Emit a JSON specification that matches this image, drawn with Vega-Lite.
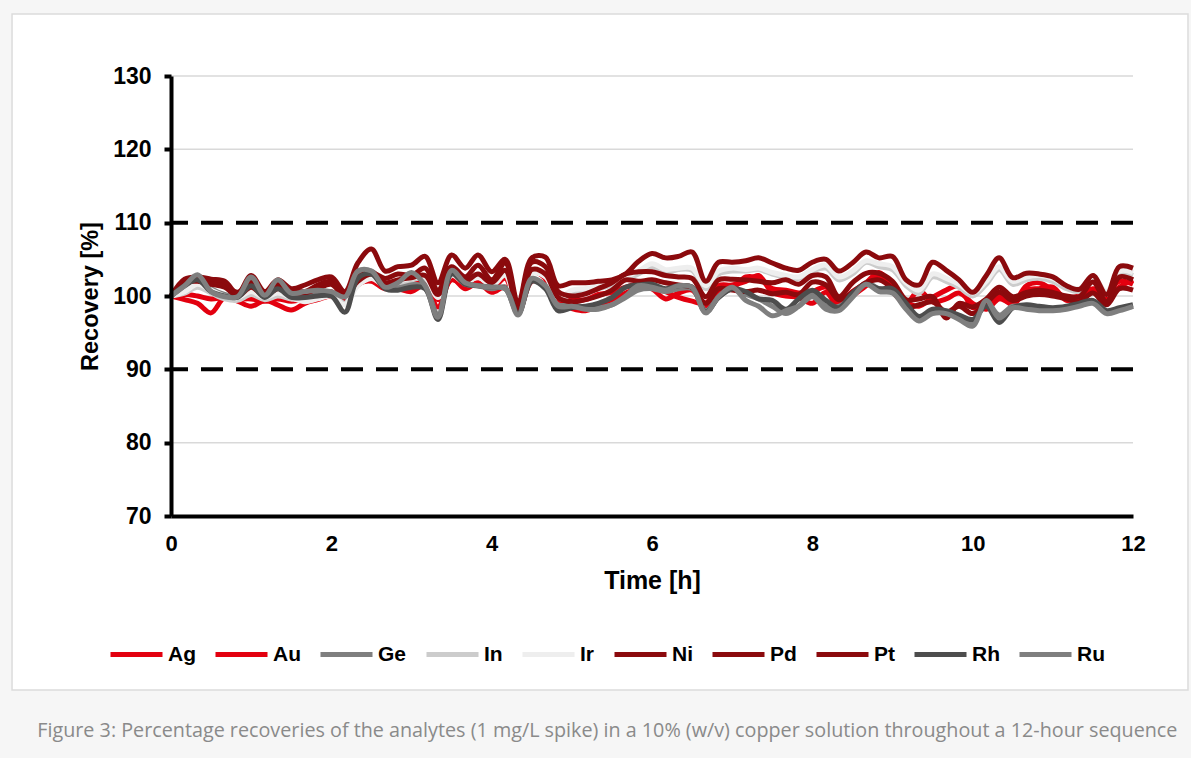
{
"$schema": "https://vega.github.io/schema/vega-lite/v6.json",
"width": 962, "height": 440,
"autosize": {"type": "none"},
"padding": {"left": 171, "top": 76, "right": 58, "bottom": 242},
"background": "#f6f6f6",
"title": {"text": "Figure 3: Percentage recoveries of the analytes (1 mg/L spike) in a 10% (w/v) copper solution throughout a 12-hour sequence", "orient": "bottom", "anchor": "start", "dx": 26, "offset": 30, "font": "Open Sans", "fontSize": 19.75, "fontWeight": "normal", "color": "#8a8a8a"},
"config": {
 "view": {"stroke": null},
 "font": "Liberation Sans"
},
"layer": [
 {"data": {"values": [{}]}, "mark": {"type": "rect", "fill": "white", "stroke": "#dcdcdc", "strokeWidth": 1.5, "clip": false},
  "encoding": {"x": {"datum": -1.983, "type": "quantitative", "scale": {"domain": [0, 12], "nice": false, "zero": false}}, "x2": {"datum": 12.686}, "y": {"datum": 138.45, "type": "quantitative", "scale": {"domain": [70, 130], "nice": false, "zero": false}}, "y2": {"datum": 46.27}}},
 {"data": {"values": [{"g": 80}, {"g": 100}, {"g": 120}, {"g": 130}]}, "mark": {"type": "rule", "stroke": "#d9d9d9", "strokeWidth": 1.5},
  "encoding": {"y": {"field": "g", "type": "quantitative", "scale": {"domain": [70, 130], "nice": false, "zero": false}}}},
 {"data": {"values": [{"g": 90}, {"g": 110}]}, "mark": {"type": "rule", "stroke": "black", "strokeWidth": 4, "strokeDash": [22, 13]},
  "encoding": {"y": {"field": "g", "type": "quantitative", "scale": {"domain": [70, 130], "nice": false, "zero": false}}}},
 {"data": {"values": [
{"t":0,"e":"Ag","v":100},{"t":0.17,"e":"Ag","v":99.5},{"t":0.33,"e":"Ag","v":99.0},{"t":0.5,"e":"Ag","v":97.7},{"t":0.67,"e":"Ag","v":99.8},{"t":0.83,"e":"Ag","v":99.3},{"t":1,"e":"Ag","v":98.6},{"t":1.17,"e":"Ag","v":99.4},{"t":1.33,"e":"Ag","v":98.8},{"t":1.5,"e":"Ag","v":98.1},{"t":1.67,"e":"Ag","v":99.0},{"t":1.83,"e":"Ag","v":99.5},{"t":2,"e":"Ag","v":100.0},
{"t":2.17,"e":"Ag","v":99.5},{"t":2.33,"e":"Ag","v":101.5},{"t":2.5,"e":"Ag","v":102.4},{"t":2.67,"e":"Ag","v":101.2},{"t":2.83,"e":"Ag","v":101.0},{"t":3,"e":"Ag","v":100.6},{"t":3.17,"e":"Ag","v":101.5},{"t":3.33,"e":"Ag","v":98.5},{"t":3.5,"e":"Ag","v":102.4},{"t":3.67,"e":"Ag","v":101.0},{"t":3.83,"e":"Ag","v":101.8},{"t":4,"e":"Ag","v":100.5},
{"t":4.17,"e":"Ag","v":101.2},{"t":4.33,"e":"Ag","v":97.8},{"t":4.5,"e":"Ag","v":102.0},{"t":4.67,"e":"Ag","v":101.6},{"t":4.83,"e":"Ag","v":99.0},{"t":5,"e":"Ag","v":98.3},{"t":5.17,"e":"Ag","v":98.0},{"t":5.33,"e":"Ag","v":98.6},{"t":5.5,"e":"Ag","v":99.2},{"t":5.67,"e":"Ag","v":100.4},{"t":5.83,"e":"Ag","v":101.0},{"t":6,"e":"Ag","v":101.2},
{"t":6.17,"e":"Ag","v":100.6},{"t":6.33,"e":"Ag","v":99.8},{"t":6.5,"e":"Ag","v":99.3},{"t":6.67,"e":"Ag","v":99.0},{"t":6.83,"e":"Ag","v":101.4},{"t":7,"e":"Ag","v":101.5},{"t":7.17,"e":"Ag","v":102.0},{"t":7.33,"e":"Ag","v":102.8},{"t":7.5,"e":"Ag","v":100.5},{"t":7.67,"e":"Ag","v":100.0},{"t":7.83,"e":"Ag","v":99.8},{"t":8,"e":"Ag","v":99.0},
{"t":8.17,"e":"Ag","v":100.5},{"t":8.33,"e":"Ag","v":98.4},{"t":8.5,"e":"Ag","v":100.0},{"t":8.67,"e":"Ag","v":101.4},{"t":8.83,"e":"Ag","v":102.8},{"t":9,"e":"Ag","v":100.6},{"t":9.17,"e":"Ag","v":99.0},{"t":9.33,"e":"Ag","v":100.8},{"t":9.5,"e":"Ag","v":99.2},{"t":9.67,"e":"Ag","v":99.6},{"t":9.83,"e":"Ag","v":100.4},{"t":10,"e":"Ag","v":99.0},
{"t":10.17,"e":"Ag","v":98.2},{"t":10.33,"e":"Ag","v":99.6},{"t":10.5,"e":"Ag","v":99.0},{"t":10.67,"e":"Ag","v":101.4},{"t":10.83,"e":"Ag","v":101.8},{"t":11,"e":"Ag","v":100.8},{"t":11.17,"e":"Ag","v":99.8},{"t":11.33,"e":"Ag","v":100.0},{"t":11.5,"e":"Ag","v":101.0},{"t":11.67,"e":"Ag","v":100.5},{"t":11.83,"e":"Ag","v":102.0},{"t":12,"e":"Ag","v":101.6},
{"t":0,"e":"Au","v":100},{"t":0.17,"e":"Au","v":100.2},{"t":0.33,"e":"Au","v":100.0},{"t":0.5,"e":"Au","v":99.6},{"t":0.67,"e":"Au","v":99.8},{"t":0.83,"e":"Au","v":99.6},{"t":1,"e":"Au","v":99.6},{"t":1.17,"e":"Au","v":99.3},{"t":1.33,"e":"Au","v":99.6},{"t":1.5,"e":"Au","v":99.3},{"t":1.67,"e":"Au","v":99.6},{"t":1.83,"e":"Au","v":100.2},{"t":2,"e":"Au","v":100.6},
{"t":2.17,"e":"Au","v":99.2},{"t":2.33,"e":"Au","v":101.6},{"t":2.5,"e":"Au","v":102.0},{"t":2.67,"e":"Au","v":101.0},{"t":2.83,"e":"Au","v":101.5},{"t":3,"e":"Au","v":101.8},{"t":3.17,"e":"Au","v":101.6},{"t":3.33,"e":"Au","v":99.5},{"t":3.5,"e":"Au","v":102.2},{"t":3.67,"e":"Au","v":101.4},{"t":3.83,"e":"Au","v":101.6},{"t":4,"e":"Au","v":101.0},
{"t":4.17,"e":"Au","v":102.4},{"t":4.33,"e":"Au","v":98.0},{"t":4.5,"e":"Au","v":103.2},{"t":4.67,"e":"Au","v":102.4},{"t":4.83,"e":"Au","v":98.8},{"t":5,"e":"Au","v":99.5},{"t":5.17,"e":"Au","v":99.5},{"t":5.33,"e":"Au","v":100.2},{"t":5.5,"e":"Au","v":100.5},{"t":5.67,"e":"Au","v":101.2},{"t":5.83,"e":"Au","v":101.6},{"t":6,"e":"Au","v":101.0},
{"t":6.17,"e":"Au","v":99.6},{"t":6.33,"e":"Au","v":100.4},{"t":6.5,"e":"Au","v":100.8},{"t":6.67,"e":"Au","v":98.6},{"t":6.83,"e":"Au","v":100.6},{"t":7,"e":"Au","v":101.0},{"t":7.17,"e":"Au","v":102.6},{"t":7.33,"e":"Au","v":102.4},{"t":7.5,"e":"Au","v":101.0},{"t":7.67,"e":"Au","v":100.8},{"t":7.83,"e":"Au","v":100.4},{"t":8,"e":"Au","v":100.6},
{"t":8.17,"e":"Au","v":101.2},{"t":8.33,"e":"Au","v":99.0},{"t":8.5,"e":"Au","v":100.6},{"t":8.67,"e":"Au","v":101.8},{"t":8.83,"e":"Au","v":103.2},{"t":9,"e":"Au","v":101.4},{"t":9.17,"e":"Au","v":99.2},{"t":9.33,"e":"Au","v":98.6},{"t":9.5,"e":"Au","v":99.8},{"t":9.67,"e":"Au","v":100.8},{"t":9.83,"e":"Au","v":101.4},{"t":10,"e":"Au","v":98.4},
{"t":10.17,"e":"Au","v":99.2},{"t":10.33,"e":"Au","v":100.0},{"t":10.5,"e":"Au","v":98.8},{"t":10.67,"e":"Au","v":100.8},{"t":10.83,"e":"Au","v":101.0},{"t":11,"e":"Au","v":101.2},{"t":11.17,"e":"Au","v":99.4},{"t":11.33,"e":"Au","v":99.8},{"t":11.5,"e":"Au","v":100.6},{"t":11.67,"e":"Au","v":99.6},{"t":11.83,"e":"Au","v":101.2},{"t":12,"e":"Au","v":102.2},
{"t":0,"e":"Ge","v":100},{"t":0.17,"e":"Ge","v":101.6},{"t":0.33,"e":"Ge","v":102.4},{"t":0.5,"e":"Ge","v":101.0},{"t":0.67,"e":"Ge","v":100.2},{"t":0.83,"e":"Ge","v":100.0},{"t":1,"e":"Ge","v":102.0},{"t":1.17,"e":"Ge","v":100.0},{"t":1.33,"e":"Ge","v":101.6},{"t":1.5,"e":"Ge","v":100.0},{"t":1.67,"e":"Ge","v":100.0},{"t":1.83,"e":"Ge","v":100.2},{"t":2,"e":"Ge","v":100.4},
{"t":2.17,"e":"Ge","v":99.0},{"t":2.33,"e":"Ge","v":102.8},{"t":2.5,"e":"Ge","v":103.4},{"t":2.67,"e":"Ge","v":101.6},{"t":2.83,"e":"Ge","v":101.2},{"t":3,"e":"Ge","v":101.6},{"t":3.17,"e":"Ge","v":101.2},{"t":3.33,"e":"Ge","v":97.4},{"t":3.5,"e":"Ge","v":103.2},{"t":3.67,"e":"Ge","v":101.6},{"t":3.83,"e":"Ge","v":101.4},{"t":4,"e":"Ge","v":101.0},
{"t":4.17,"e":"Ge","v":101.2},{"t":4.33,"e":"Ge","v":97.6},{"t":4.5,"e":"Ge","v":102.2},{"t":4.67,"e":"Ge","v":101.4},{"t":4.83,"e":"Ge","v":98.8},{"t":5,"e":"Ge","v":98.8},{"t":5.17,"e":"Ge","v":98.5},{"t":5.33,"e":"Ge","v":98.4},{"t":5.5,"e":"Ge","v":98.8},{"t":5.67,"e":"Ge","v":99.8},{"t":5.83,"e":"Ge","v":100.8},{"t":6,"e":"Ge","v":101.0},
{"t":6.17,"e":"Ge","v":100.6},{"t":6.33,"e":"Ge","v":101.0},{"t":6.5,"e":"Ge","v":101.0},{"t":6.67,"e":"Ge","v":98.0},{"t":6.83,"e":"Ge","v":99.8},{"t":7,"e":"Ge","v":101.0},{"t":7.17,"e":"Ge","v":100.2},{"t":7.33,"e":"Ge","v":99.6},{"t":7.5,"e":"Ge","v":98.6},{"t":7.67,"e":"Ge","v":97.6},{"t":7.83,"e":"Ge","v":98.6},{"t":8,"e":"Ge","v":100.2},
{"t":8.17,"e":"Ge","v":98.6},{"t":8.33,"e":"Ge","v":98.6},{"t":8.5,"e":"Ge","v":100.0},{"t":8.67,"e":"Ge","v":101.8},{"t":8.83,"e":"Ge","v":101.0},{"t":9,"e":"Ge","v":100.6},{"t":9.17,"e":"Ge","v":98.6},{"t":9.33,"e":"Ge","v":96.8},{"t":9.5,"e":"Ge","v":97.8},{"t":9.67,"e":"Ge","v":97.6},{"t":9.83,"e":"Ge","v":97.2},{"t":10,"e":"Ge","v":96.4},
{"t":10.17,"e":"Ge","v":99.2},{"t":10.33,"e":"Ge","v":97.4},{"t":10.5,"e":"Ge","v":98.6},{"t":10.67,"e":"Ge","v":98.4},{"t":10.83,"e":"Ge","v":98.2},{"t":11,"e":"Ge","v":98.2},{"t":11.17,"e":"Ge","v":98.4},{"t":11.33,"e":"Ge","v":98.8},{"t":11.5,"e":"Ge","v":99.2},{"t":11.67,"e":"Ge","v":97.8},{"t":11.83,"e":"Ge","v":98.2},{"t":12,"e":"Ge","v":98.6},
{"t":0,"e":"In","v":100},{"t":0.17,"e":"In","v":100.4},{"t":0.33,"e":"In","v":101.2},{"t":0.5,"e":"In","v":100.4},{"t":0.67,"e":"In","v":99.6},{"t":0.83,"e":"In","v":99.4},{"t":1,"e":"In","v":100.2},{"t":1.17,"e":"In","v":99.5},{"t":1.33,"e":"In","v":100.0},{"t":1.5,"e":"In","v":99.6},{"t":1.67,"e":"In","v":99.4},{"t":1.83,"e":"In","v":99.8},{"t":2,"e":"In","v":100.2},
{"t":2.17,"e":"In","v":99.0},{"t":2.33,"e":"In","v":101.8},{"t":2.5,"e":"In","v":102.8},{"t":2.67,"e":"In","v":101.6},{"t":2.83,"e":"In","v":101.8},{"t":3,"e":"In","v":102.2},{"t":3.17,"e":"In","v":102.4},{"t":3.33,"e":"In","v":100.0},{"t":3.5,"e":"In","v":103.0},{"t":3.67,"e":"In","v":102.0},{"t":3.83,"e":"In","v":102.8},{"t":4,"e":"In","v":101.6},
{"t":4.17,"e":"In","v":103.2},{"t":4.33,"e":"In","v":98.4},{"t":4.5,"e":"In","v":103.4},{"t":4.67,"e":"In","v":103.0},{"t":4.83,"e":"In","v":100.2},{"t":5,"e":"In","v":100.4},{"t":5.17,"e":"In","v":100.6},{"t":5.33,"e":"In","v":101.0},{"t":5.5,"e":"In","v":101.5},{"t":5.67,"e":"In","v":102.2},{"t":5.83,"e":"In","v":103.0},{"t":6,"e":"In","v":104.0},
{"t":6.17,"e":"In","v":103.2},{"t":6.33,"e":"In","v":103.6},{"t":6.5,"e":"In","v":103.5},{"t":6.67,"e":"In","v":101.0},{"t":6.83,"e":"In","v":103.0},{"t":7,"e":"In","v":103.4},{"t":7.17,"e":"In","v":103.4},{"t":7.33,"e":"In","v":103.6},{"t":7.5,"e":"In","v":103.0},{"t":7.67,"e":"In","v":102.6},{"t":7.83,"e":"In","v":102.4},{"t":8,"e":"In","v":103.4},
{"t":8.17,"e":"In","v":103.8},{"t":8.33,"e":"In","v":102.2},{"t":8.5,"e":"In","v":103.0},{"t":8.67,"e":"In","v":104.6},{"t":8.83,"e":"In","v":104.0},{"t":9,"e":"In","v":103.6},{"t":9.17,"e":"In","v":101.4},{"t":9.33,"e":"In","v":100.4},{"t":9.5,"e":"In","v":102.6},{"t":9.67,"e":"In","v":102.0},{"t":9.83,"e":"In","v":101.2},{"t":10,"e":"In","v":100.0},
{"t":10.17,"e":"In","v":101.6},{"t":10.33,"e":"In","v":103.6},{"t":10.5,"e":"In","v":101.6},{"t":10.67,"e":"In","v":102.2},{"t":10.83,"e":"In","v":102.4},{"t":11,"e":"In","v":102.0},{"t":11.17,"e":"In","v":101.0},{"t":11.33,"e":"In","v":100.6},{"t":11.5,"e":"In","v":102.2},{"t":11.67,"e":"In","v":100.2},{"t":11.83,"e":"In","v":103.0},{"t":12,"e":"In","v":102.8},
{"t":0,"e":"Ir","v":100},{"t":0.17,"e":"Ir","v":100.6},{"t":0.33,"e":"Ir","v":101.6},{"t":0.5,"e":"Ir","v":100.8},{"t":0.67,"e":"Ir","v":100.0},{"t":0.83,"e":"Ir","v":99.8},{"t":1,"e":"Ir","v":100.6},{"t":1.17,"e":"Ir","v":99.8},{"t":1.33,"e":"Ir","v":100.4},{"t":1.5,"e":"Ir","v":99.8},{"t":1.67,"e":"Ir","v":99.2},{"t":1.83,"e":"Ir","v":99.6},{"t":2,"e":"Ir","v":100.0},
{"t":2.17,"e":"Ir","v":98.8},{"t":2.33,"e":"Ir","v":101.4},{"t":2.5,"e":"Ir","v":102.4},{"t":2.67,"e":"Ir","v":101.4},{"t":2.83,"e":"Ir","v":102.0},{"t":3,"e":"Ir","v":102.4},{"t":3.17,"e":"Ir","v":102.6},{"t":3.33,"e":"Ir","v":99.8},{"t":3.5,"e":"Ir","v":102.8},{"t":3.67,"e":"Ir","v":101.8},{"t":3.83,"e":"Ir","v":102.6},{"t":4,"e":"Ir","v":101.4},
{"t":4.17,"e":"Ir","v":102.8},{"t":4.33,"e":"Ir","v":98.2},{"t":4.5,"e":"Ir","v":103.0},{"t":4.67,"e":"Ir","v":102.6},{"t":4.83,"e":"Ir","v":99.8},{"t":5,"e":"Ir","v":100.8},{"t":5.17,"e":"Ir","v":101.0},{"t":5.33,"e":"Ir","v":101.4},{"t":5.5,"e":"Ir","v":101.8},{"t":5.67,"e":"Ir","v":102.6},{"t":5.83,"e":"Ir","v":103.4},{"t":6,"e":"Ir","v":104.4},
{"t":6.17,"e":"Ir","v":103.6},{"t":6.33,"e":"Ir","v":103.8},{"t":6.5,"e":"Ir","v":103.8},{"t":6.67,"e":"Ir","v":101.4},{"t":6.83,"e":"Ir","v":103.4},{"t":7,"e":"Ir","v":103.8},{"t":7.17,"e":"Ir","v":103.6},{"t":7.33,"e":"Ir","v":103.8},{"t":7.5,"e":"Ir","v":103.2},{"t":7.67,"e":"Ir","v":102.8},{"t":7.83,"e":"Ir","v":102.6},{"t":8,"e":"Ir","v":103.6},
{"t":8.17,"e":"Ir","v":104.2},{"t":8.33,"e":"Ir","v":102.6},{"t":8.5,"e":"Ir","v":103.4},{"t":8.67,"e":"Ir","v":104.8},{"t":8.83,"e":"Ir","v":104.4},{"t":9,"e":"Ir","v":104.0},{"t":9.17,"e":"Ir","v":101.8},{"t":9.33,"e":"Ir","v":100.8},{"t":9.5,"e":"Ir","v":103.0},{"t":9.67,"e":"Ir","v":102.4},{"t":9.83,"e":"Ir","v":101.6},{"t":10,"e":"Ir","v":100.4},
{"t":10.17,"e":"Ir","v":102.0},{"t":10.33,"e":"Ir","v":104.0},{"t":10.5,"e":"Ir","v":102.0},{"t":10.67,"e":"Ir","v":102.6},{"t":10.83,"e":"Ir","v":102.8},{"t":11,"e":"Ir","v":102.4},{"t":11.17,"e":"Ir","v":101.4},{"t":11.33,"e":"Ir","v":101.0},{"t":11.5,"e":"Ir","v":102.6},{"t":11.67,"e":"Ir","v":100.6},{"t":11.83,"e":"Ir","v":103.4},{"t":12,"e":"Ir","v":103.2},
{"t":0,"e":"Ni","v":100},{"t":0.17,"e":"Ni","v":101.8},{"t":0.33,"e":"Ni","v":102.0},{"t":0.5,"e":"Ni","v":101.6},{"t":0.67,"e":"Ni","v":101.2},{"t":0.83,"e":"Ni","v":100.0},{"t":1,"e":"Ni","v":101.2},{"t":1.17,"e":"Ni","v":100.0},{"t":1.33,"e":"Ni","v":101.0},{"t":1.5,"e":"Ni","v":100.5},{"t":1.67,"e":"Ni","v":100.4},{"t":1.83,"e":"Ni","v":101.0},{"t":2,"e":"Ni","v":101.6},
{"t":2.17,"e":"Ni","v":100.0},{"t":2.33,"e":"Ni","v":102.0},{"t":2.5,"e":"Ni","v":103.0},{"t":2.67,"e":"Ni","v":101.8},{"t":2.83,"e":"Ni","v":102.2},{"t":3,"e":"Ni","v":102.5},{"t":3.17,"e":"Ni","v":102.8},{"t":3.33,"e":"Ni","v":100.2},{"t":3.5,"e":"Ni","v":103.2},{"t":3.67,"e":"Ni","v":102.0},{"t":3.83,"e":"Ni","v":103.0},{"t":4,"e":"Ni","v":101.8},
{"t":4.17,"e":"Ni","v":103.5},{"t":4.33,"e":"Ni","v":98.2},{"t":4.5,"e":"Ni","v":103.6},{"t":4.67,"e":"Ni","v":103.0},{"t":4.83,"e":"Ni","v":99.8},{"t":5,"e":"Ni","v":99.2},{"t":5.17,"e":"Ni","v":99.5},{"t":5.33,"e":"Ni","v":100.0},{"t":5.5,"e":"Ni","v":100.8},{"t":5.67,"e":"Ni","v":102.2},{"t":5.83,"e":"Ni","v":102.0},{"t":6,"e":"Ni","v":102.2},
{"t":6.17,"e":"Ni","v":101.8},{"t":6.33,"e":"Ni","v":101.5},{"t":6.5,"e":"Ni","v":101.2},{"t":6.67,"e":"Ni","v":99.0},{"t":6.83,"e":"Ni","v":101.0},{"t":7,"e":"Ni","v":100.8},{"t":7.17,"e":"Ni","v":100.6},{"t":7.33,"e":"Ni","v":100.8},{"t":7.5,"e":"Ni","v":100.3},{"t":7.67,"e":"Ni","v":100.5},{"t":7.83,"e":"Ni","v":100.2},{"t":8,"e":"Ni","v":101.9},
{"t":8.17,"e":"Ni","v":101.5},{"t":8.33,"e":"Ni","v":99.5},{"t":8.5,"e":"Ni","v":100.5},{"t":8.67,"e":"Ni","v":101.8},{"t":8.83,"e":"Ni","v":102.2},{"t":9,"e":"Ni","v":101.0},{"t":9.17,"e":"Ni","v":98.5},{"t":9.33,"e":"Ni","v":98.8},{"t":9.5,"e":"Ni","v":99.2},{"t":9.67,"e":"Ni","v":97.8},{"t":9.83,"e":"Ni","v":98.6},{"t":10,"e":"Ni","v":97.6},
{"t":10.17,"e":"Ni","v":99.0},{"t":10.33,"e":"Ni","v":100.5},{"t":10.5,"e":"Ni","v":99.4},{"t":10.67,"e":"Ni","v":100.0},{"t":10.83,"e":"Ni","v":100.2},{"t":11,"e":"Ni","v":100.0},{"t":11.17,"e":"Ni","v":99.6},{"t":11.33,"e":"Ni","v":99.2},{"t":11.5,"e":"Ni","v":100.4},{"t":11.67,"e":"Ni","v":98.8},{"t":11.83,"e":"Ni","v":101.0},{"t":12,"e":"Ni","v":100.8},
{"t":0,"e":"Pd","v":100},{"t":0.17,"e":"Pd","v":101.5},{"t":0.33,"e":"Pd","v":102.3},{"t":0.5,"e":"Pd","v":102.0},{"t":0.67,"e":"Pd","v":101.5},{"t":0.83,"e":"Pd","v":100.5},{"t":1,"e":"Pd","v":101.8},{"t":1.17,"e":"Pd","v":100.3},{"t":1.33,"e":"Pd","v":101.5},{"t":1.5,"e":"Pd","v":100.8},{"t":1.67,"e":"Pd","v":100.6},{"t":1.83,"e":"Pd","v":101.5},{"t":2,"e":"Pd","v":102.0},
{"t":2.17,"e":"Pd","v":100.2},{"t":2.33,"e":"Pd","v":102.5},{"t":2.5,"e":"Pd","v":103.2},{"t":2.67,"e":"Pd","v":102.4},{"t":2.83,"e":"Pd","v":103.0},{"t":3,"e":"Pd","v":102.8},{"t":3.17,"e":"Pd","v":103.8},{"t":3.33,"e":"Pd","v":100.8},{"t":3.5,"e":"Pd","v":104.0},{"t":3.67,"e":"Pd","v":102.6},{"t":3.83,"e":"Pd","v":104.2},{"t":4,"e":"Pd","v":102.2},
{"t":4.17,"e":"Pd","v":104.5},{"t":4.33,"e":"Pd","v":98.6},{"t":4.5,"e":"Pd","v":104.6},{"t":4.67,"e":"Pd","v":104.0},{"t":4.83,"e":"Pd","v":100.6},{"t":5,"e":"Pd","v":100.0},{"t":5.17,"e":"Pd","v":100.3},{"t":5.33,"e":"Pd","v":101.0},{"t":5.5,"e":"Pd","v":101.8},{"t":5.67,"e":"Pd","v":103.0},{"t":5.83,"e":"Pd","v":103.3},{"t":6,"e":"Pd","v":103.3},
{"t":6.17,"e":"Pd","v":102.8},{"t":6.33,"e":"Pd","v":102.6},{"t":6.5,"e":"Pd","v":102.4},{"t":6.67,"e":"Pd","v":99.9},{"t":6.83,"e":"Pd","v":102.2},{"t":7,"e":"Pd","v":102.3},{"t":7.17,"e":"Pd","v":102.2},{"t":7.33,"e":"Pd","v":102.0},{"t":7.5,"e":"Pd","v":101.8},{"t":7.67,"e":"Pd","v":102.2},{"t":7.83,"e":"Pd","v":101.6},{"t":8,"e":"Pd","v":102.8},
{"t":8.17,"e":"Pd","v":102.6},{"t":8.33,"e":"Pd","v":99.9},{"t":8.5,"e":"Pd","v":101.8},{"t":8.67,"e":"Pd","v":103.1},{"t":8.83,"e":"Pd","v":103.1},{"t":9,"e":"Pd","v":102.0},{"t":9.17,"e":"Pd","v":99.5},{"t":9.33,"e":"Pd","v":99.6},{"t":9.5,"e":"Pd","v":99.9},{"t":9.67,"e":"Pd","v":97.0},{"t":9.83,"e":"Pd","v":99.0},{"t":10,"e":"Pd","v":98.5},
{"t":10.17,"e":"Pd","v":99.6},{"t":10.33,"e":"Pd","v":101.2},{"t":10.5,"e":"Pd","v":99.9},{"t":10.67,"e":"Pd","v":100.5},{"t":10.83,"e":"Pd","v":100.8},{"t":11,"e":"Pd","v":100.5},{"t":11.17,"e":"Pd","v":100.0},{"t":11.33,"e":"Pd","v":99.9},{"t":11.5,"e":"Pd","v":101.9},{"t":11.67,"e":"Pd","v":99.2},{"t":11.83,"e":"Pd","v":102.6},{"t":12,"e":"Pd","v":102.2},
{"t":0,"e":"Pt","v":100},{"t":0.17,"e":"Pt","v":102.3},{"t":0.33,"e":"Pt","v":102.6},{"t":0.5,"e":"Pt","v":102.3},{"t":0.67,"e":"Pt","v":102.0},{"t":0.83,"e":"Pt","v":100.3},{"t":1,"e":"Pt","v":102.8},{"t":1.17,"e":"Pt","v":100.6},{"t":1.33,"e":"Pt","v":102.2},{"t":1.5,"e":"Pt","v":101.0},{"t":1.67,"e":"Pt","v":101.5},{"t":1.83,"e":"Pt","v":102.2},{"t":2,"e":"Pt","v":102.6},
{"t":2.17,"e":"Pt","v":100.6},{"t":2.33,"e":"Pt","v":104.5},{"t":2.5,"e":"Pt","v":106.4},{"t":2.67,"e":"Pt","v":103.4},{"t":2.83,"e":"Pt","v":104.0},{"t":3,"e":"Pt","v":104.2},{"t":3.17,"e":"Pt","v":105.4},{"t":3.33,"e":"Pt","v":101.8},{"t":3.5,"e":"Pt","v":105.6},{"t":3.67,"e":"Pt","v":103.8},{"t":3.83,"e":"Pt","v":105.6},{"t":4,"e":"Pt","v":103.3},
{"t":4.17,"e":"Pt","v":105.0},{"t":4.33,"e":"Pt","v":99.0},{"t":4.5,"e":"Pt","v":105.2},{"t":4.67,"e":"Pt","v":105.3},{"t":4.83,"e":"Pt","v":101.4},{"t":5,"e":"Pt","v":101.8},{"t":5.17,"e":"Pt","v":101.8},{"t":5.33,"e":"Pt","v":102.0},{"t":5.5,"e":"Pt","v":102.2},{"t":5.67,"e":"Pt","v":103.0},{"t":5.83,"e":"Pt","v":104.7},{"t":6,"e":"Pt","v":105.8},
{"t":6.17,"e":"Pt","v":105.2},{"t":6.33,"e":"Pt","v":105.4},{"t":6.5,"e":"Pt","v":106.0},{"t":6.67,"e":"Pt","v":102.0},{"t":6.83,"e":"Pt","v":104.6},{"t":7,"e":"Pt","v":104.6},{"t":7.17,"e":"Pt","v":104.8},{"t":7.33,"e":"Pt","v":105.2},{"t":7.5,"e":"Pt","v":104.5},{"t":7.67,"e":"Pt","v":103.8},{"t":7.83,"e":"Pt","v":103.5},{"t":8,"e":"Pt","v":104.6},
{"t":8.17,"e":"Pt","v":105.0},{"t":8.33,"e":"Pt","v":103.4},{"t":8.5,"e":"Pt","v":104.5},{"t":8.67,"e":"Pt","v":106.0},{"t":8.83,"e":"Pt","v":105.2},{"t":9,"e":"Pt","v":105.4},{"t":9.17,"e":"Pt","v":102.2},{"t":9.33,"e":"Pt","v":101.5},{"t":9.5,"e":"Pt","v":104.6},{"t":9.67,"e":"Pt","v":103.5},{"t":9.83,"e":"Pt","v":102.2},{"t":10,"e":"Pt","v":100.5},
{"t":10.17,"e":"Pt","v":102.8},{"t":10.33,"e":"Pt","v":105.2},{"t":10.5,"e":"Pt","v":102.5},{"t":10.67,"e":"Pt","v":103.1},{"t":10.83,"e":"Pt","v":103.0},{"t":11,"e":"Pt","v":102.6},{"t":11.17,"e":"Pt","v":101.4},{"t":11.33,"e":"Pt","v":100.9},{"t":11.5,"e":"Pt","v":102.8},{"t":11.67,"e":"Pt","v":100.2},{"t":11.83,"e":"Pt","v":104.0},{"t":12,"e":"Pt","v":103.8},
{"t":0,"e":"Rh","v":100},{"t":0.17,"e":"Rh","v":101.4},{"t":0.33,"e":"Rh","v":102.2},{"t":0.5,"e":"Rh","v":100.6},{"t":0.67,"e":"Rh","v":100.0},{"t":0.83,"e":"Rh","v":99.8},{"t":1,"e":"Rh","v":101.4},{"t":1.17,"e":"Rh","v":99.8},{"t":1.33,"e":"Rh","v":101.0},{"t":1.5,"e":"Rh","v":99.8},{"t":1.67,"e":"Rh","v":99.8},{"t":1.83,"e":"Rh","v":100.0},{"t":2,"e":"Rh","v":100.0},
{"t":2.17,"e":"Rh","v":97.8},{"t":2.33,"e":"Rh","v":102.4},{"t":2.5,"e":"Rh","v":103.0},{"t":2.67,"e":"Rh","v":101.0},{"t":2.83,"e":"Rh","v":100.8},{"t":3,"e":"Rh","v":101.2},{"t":3.17,"e":"Rh","v":101.0},{"t":3.33,"e":"Rh","v":96.8},{"t":3.5,"e":"Rh","v":103.0},{"t":3.67,"e":"Rh","v":101.6},{"t":3.83,"e":"Rh","v":101.4},{"t":4,"e":"Rh","v":101.2},
{"t":4.17,"e":"Rh","v":101.0},{"t":4.33,"e":"Rh","v":97.6},{"t":4.5,"e":"Rh","v":102.0},{"t":4.67,"e":"Rh","v":101.0},{"t":4.83,"e":"Rh","v":98.0},{"t":5,"e":"Rh","v":98.4},{"t":5.17,"e":"Rh","v":98.6},{"t":5.33,"e":"Rh","v":99.0},{"t":5.5,"e":"Rh","v":99.8},{"t":5.67,"e":"Rh","v":101.2},{"t":5.83,"e":"Rh","v":101.5},{"t":6,"e":"Rh","v":101.6},
{"t":6.17,"e":"Rh","v":101.0},{"t":6.33,"e":"Rh","v":101.4},{"t":6.5,"e":"Rh","v":101.2},{"t":6.67,"e":"Rh","v":97.8},{"t":6.83,"e":"Rh","v":99.8},{"t":7,"e":"Rh","v":101.0},{"t":7.17,"e":"Rh","v":100.6},{"t":7.33,"e":"Rh","v":99.6},{"t":7.5,"e":"Rh","v":99.4},{"t":7.67,"e":"Rh","v":98.2},{"t":7.83,"e":"Rh","v":99.6},{"t":8,"e":"Rh","v":100.8},
{"t":8.17,"e":"Rh","v":99.4},{"t":8.33,"e":"Rh","v":98.4},{"t":8.5,"e":"Rh","v":100.4},{"t":8.67,"e":"Rh","v":101.6},{"t":8.83,"e":"Rh","v":101.0},{"t":9,"e":"Rh","v":101.0},{"t":9.17,"e":"Rh","v":99.0},{"t":9.33,"e":"Rh","v":97.2},{"t":9.5,"e":"Rh","v":98.2},{"t":9.67,"e":"Rh","v":98.0},{"t":9.83,"e":"Rh","v":97.4},{"t":10,"e":"Rh","v":96.8},
{"t":10.17,"e":"Rh","v":98.6},{"t":10.33,"e":"Rh","v":96.4},{"t":10.5,"e":"Rh","v":98.4},{"t":10.67,"e":"Rh","v":98.8},{"t":10.83,"e":"Rh","v":98.6},{"t":11,"e":"Rh","v":98.4},{"t":11.17,"e":"Rh","v":98.6},{"t":11.33,"e":"Rh","v":99.0},{"t":11.5,"e":"Rh","v":99.4},{"t":11.67,"e":"Rh","v":98.0},{"t":11.83,"e":"Rh","v":98.4},{"t":12,"e":"Rh","v":98.8},
{"t":0,"e":"Ru","v":100},{"t":0.17,"e":"Ru","v":101.4},{"t":0.33,"e":"Ru","v":102.9},{"t":0.5,"e":"Ru","v":100.6},{"t":0.67,"e":"Ru","v":99.9},{"t":0.83,"e":"Ru","v":99.9},{"t":1,"e":"Ru","v":102.6},{"t":1.17,"e":"Ru","v":100.1},{"t":1.33,"e":"Ru","v":102.2},{"t":1.5,"e":"Ru","v":100.4},{"t":1.67,"e":"Ru","v":100.6},{"t":1.83,"e":"Ru","v":100.8},{"t":2,"e":"Ru","v":100.6},
{"t":2.17,"e":"Ru","v":99.9},{"t":2.33,"e":"Ru","v":103.4},{"t":2.5,"e":"Ru","v":103.4},{"t":2.67,"e":"Ru","v":101.2},{"t":2.83,"e":"Ru","v":101.8},{"t":3,"e":"Ru","v":103.2},{"t":3.17,"e":"Ru","v":101.4},{"t":3.33,"e":"Ru","v":97.1},{"t":3.5,"e":"Ru","v":103.5},{"t":3.67,"e":"Ru","v":101.8},{"t":3.83,"e":"Ru","v":101.4},{"t":4,"e":"Ru","v":101.2},
{"t":4.17,"e":"Ru","v":101.0},{"t":4.33,"e":"Ru","v":97.4},{"t":4.5,"e":"Ru","v":102.4},{"t":4.67,"e":"Ru","v":101.4},{"t":4.83,"e":"Ru","v":98.6},{"t":5,"e":"Ru","v":98.6},{"t":5.17,"e":"Ru","v":98.2},{"t":5.33,"e":"Ru","v":98.2},{"t":5.5,"e":"Ru","v":98.8},{"t":5.67,"e":"Ru","v":100.0},{"t":5.83,"e":"Ru","v":101.4},{"t":6,"e":"Ru","v":101.2},
{"t":6.17,"e":"Ru","v":100.8},{"t":6.33,"e":"Ru","v":101.4},{"t":6.5,"e":"Ru","v":101.2},{"t":6.67,"e":"Ru","v":97.7},{"t":6.83,"e":"Ru","v":99.9},{"t":7,"e":"Ru","v":101.2},{"t":7.17,"e":"Ru","v":99.4},{"t":7.33,"e":"Ru","v":98.6},{"t":7.5,"e":"Ru","v":97.3},{"t":7.67,"e":"Ru","v":98.0},{"t":7.83,"e":"Ru","v":98.6},{"t":8,"e":"Ru","v":99.9},
{"t":8.17,"e":"Ru","v":98.2},{"t":8.33,"e":"Ru","v":98.0},{"t":8.5,"e":"Ru","v":99.8},{"t":8.67,"e":"Ru","v":101.6},{"t":8.83,"e":"Ru","v":100.6},{"t":9,"e":"Ru","v":100.4},{"t":9.17,"e":"Ru","v":98.2},{"t":9.33,"e":"Ru","v":96.6},{"t":9.5,"e":"Ru","v":97.6},{"t":9.67,"e":"Ru","v":97.6},{"t":9.83,"e":"Ru","v":96.8},{"t":10,"e":"Ru","v":95.9},
{"t":10.17,"e":"Ru","v":99.4},{"t":10.33,"e":"Ru","v":97.0},{"t":10.5,"e":"Ru","v":98.4},{"t":10.67,"e":"Ru","v":98.2},{"t":10.83,"e":"Ru","v":98.0},{"t":11,"e":"Ru","v":98.0},{"t":11.17,"e":"Ru","v":98.2},{"t":11.33,"e":"Ru","v":98.6},{"t":11.5,"e":"Ru","v":99.0},{"t":11.67,"e":"Ru","v":97.6},{"t":11.83,"e":"Ru","v":98.0},{"t":12,"e":"Ru","v":98.6}
 ]},
 "mark": {"type": "line", "strokeWidth": 5, "interpolate": "catmull-rom", "clip": false},
 "encoding": {
  "x": {"field": "t", "type": "quantitative", "title": "Time [h]", "scale": {"domain": [0, 12], "nice": false, "zero": false},
   "axis": {"zindex": 1, "values": [0, 2, 4, 6, 8, 10, 12], "format": "d", "labelFlush": false, "grid": false, "domainColor": "black", "domainWidth": 4, "ticks": false, "labelFont": "Liberation Sans", "labelFontWeight": "bold", "labelFontSize": 22, "labelColor": "black", "labelPadding": 17, "titleFont": "Liberation Sans", "titleFontSize": 25, "titleFontWeight": "bold", "titleColor": "black", "titlePadding": 14}},
  "y": {"field": "v", "type": "quantitative", "title": "Recovery [%]", "scale": {"domain": [70, 130], "nice": false, "zero": false},
   "axis": {"zindex": 1, "values": [70, 80, 90, 100, 110, 120, 130], "grid": false, "domainColor": "black", "domainWidth": 4, "tickColor": "black", "tickWidth": 4, "tickSize": 7, "labelFont": "Liberation Sans", "labelFontWeight": "bold", "labelFontSize": 23, "labelColor": "black", "labelPadding": 13, "titleFont": "Liberation Sans", "titleFontSize": 23.5, "titleFontWeight": "bold", "titleColor": "black", "titlePadding": 10}},
  "color": {"field": "e", "type": "nominal",
   "scale": {"domain": ["Ag", "Au", "Ge", "In", "Ir", "Ni", "Pd", "Pt", "Rh", "Ru"], "range": ["#e3000f", "#e3000f", "#7f7f7f", "#cccccc", "#eeeeee", "#8b0a0d", "#8b0a0d", "#8b0a0d", "#4d4d4d", "#7f7f7f"]},
   "legend": {"orient": "none", "legendX": -63, "legendY": 550, "direction": "horizontal", "columns": 10, "gridAlign": "none", "title": null, "symbolType": "stroke", "symbolSize": 2704, "symbolStrokeWidth": 5, "labelFont": "Liberation Sans", "labelFontSize": 21, "labelFontWeight": "bold", "labelColor": "black", "labelOffset": 3, "columnPadding": 9}}
 }}
]
}
